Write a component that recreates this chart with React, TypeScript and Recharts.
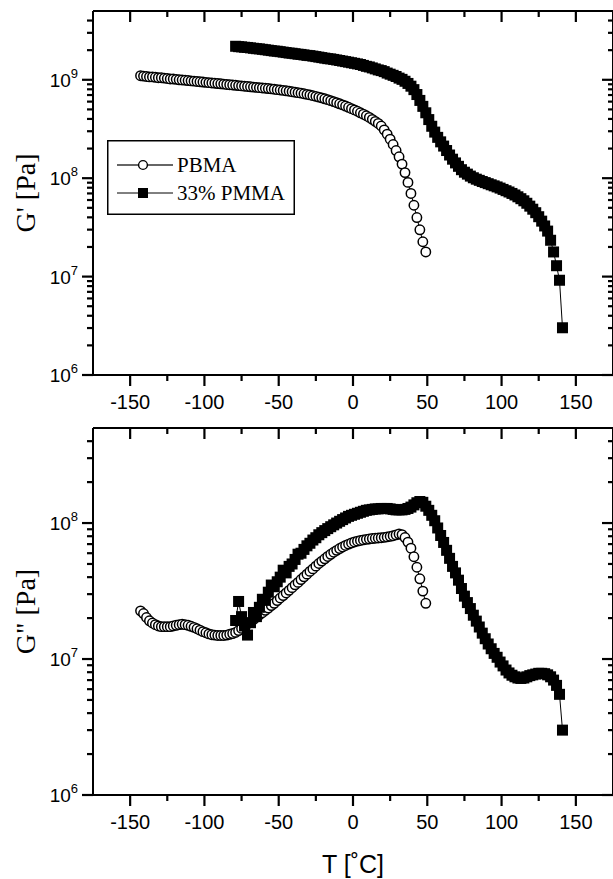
import React from 'react';
import { ScatterChart, Scatter, XAxis, YAxis, Legend } from 'recharts';

// ---------- DATA ----------
const tPBMA = [
  -143, -141, -139, -137, -135, -133, -131, -129, -127, -125,
  -123, -121, -119, -117, -115, -113, -111, -109, -107, -105,
  -103, -101, -99, -97, -95, -93, -91, -89, -87, -85,
  -83, -81, -79, -77, -75, -73, -71, -69, -67, -65,
  -63, -61, -59, -57, -55, -53, -51, -49, -47, -45,
  -43, -41, -39, -37, -35, -33, -31, -29, -27, -25,
  -23, -21, -19, -17, -15, -13, -11, -9, -7, -5,
  -3, -1, 1, 3, 5, 7, 9, 11, 13, 15,
  17, 19, 21, 23, 25, 27, 29, 31, 33, 35,
  37, 39, 41, 43, 45, 47, 49,
];

const gPrimePBMA = [
  1.10e9, 1.09e9, 1.08e9, 1.07e9, 1.07e9, 1.06e9, 1.05e9, 1.05e9, 1.04e9, 1.03e9,
  1.02e9, 1.02e9, 1.01e9, 1.00e9, 9.95e8, 9.89e8, 9.82e8, 9.75e8, 9.68e8, 9.62e8,
  9.55e8, 9.48e8, 9.42e8, 9.35e8, 9.29e8, 9.23e8, 9.16e8, 9.10e8, 9.04e8, 8.97e8,
  8.91e8, 8.85e8, 8.79e8, 8.73e8, 8.67e8, 8.61e8, 8.55e8, 8.49e8, 8.43e8, 8.38e8,
  8.32e8, 8.26e8, 8.20e8, 8.15e8, 8.09e8, 8.02e8, 7.94e8, 7.87e8, 7.80e8, 7.73e8,
  7.66e8, 7.57e8, 7.48e8, 7.40e8, 7.31e8, 7.21e8, 7.11e8, 7.02e8, 6.90e8, 6.79e8,
  6.67e8, 6.55e8, 6.41e8, 6.28e8, 6.14e8, 6.00e8, 5.85e8, 5.70e8, 5.56e8, 5.41e8,
  5.25e8, 5.09e8, 4.94e8, 4.79e8, 4.62e8, 4.47e8, 4.31e8, 4.14e8, 3.96e8, 3.78e8,
  3.60e8, 3.39e8, 3.10e8, 2.80e8, 2.49e8, 2.20e8, 1.91e8, 1.65e8, 1.39e8, 1.14e8,
  9.06e7, 7.00e7, 5.31e7, 3.98e7, 2.99e7, 2.26e7, 1.78e7,
];

const gDoublePrimePBMA = [
  2.26e7, 2.16e7, 2.02e7, 1.91e7, 1.84e7, 1.79e7, 1.75e7, 1.73e7, 1.73e7, 1.73e7,
  1.73e7, 1.75e7, 1.77e7, 1.79e7, 1.80e7, 1.79e7, 1.77e7, 1.74e7, 1.71e7, 1.67e7,
  1.63e7, 1.59e7, 1.56e7, 1.53e7, 1.51e7, 1.50e7, 1.49e7, 1.49e7, 1.49e7, 1.50e7,
  1.52e7, 1.54e7, 1.57e7, 1.62e7, 1.68e7, 1.74e7, 1.81e7, 1.87e7, 1.95e7, 2.03e7,
  2.11e7, 2.19e7, 2.28e7, 2.37e7, 2.47e7, 2.57e7, 2.69e7, 2.81e7, 2.93e7, 3.06e7,
  3.20e7, 3.35e7, 3.51e7, 3.66e7, 3.84e7, 4.02e7, 4.21e7, 4.41e7, 4.60e7, 4.82e7,
  5.04e7, 5.25e7, 5.46e7, 5.68e7, 5.89e7, 6.10e7, 6.30e7, 6.49e7, 6.67e7, 6.84e7,
  7.00e7, 7.14e7, 7.26e7, 7.36e7, 7.45e7, 7.52e7, 7.59e7, 7.64e7, 7.69e7, 7.73e7,
  7.76e7, 7.80e7, 7.85e7, 7.91e7, 7.98e7, 8.07e7, 8.18e7, 8.30e7, 8.22e7, 7.82e7,
  7.24e7, 6.53e7, 5.65e7, 4.73e7, 3.89e7, 3.16e7, 2.57e7,
];

const tPMMA = [
  -79, -77, -75, -73, -71, -69, -67, -65, -63, -61,
  -59, -57, -55, -53, -51, -49, -47, -45, -43, -41,
  -39, -37, -35, -33, -31, -29, -27, -25, -23, -21,
  -19, -17, -15, -13, -11, -9, -7, -5, -3, -1,
  1, 3, 5, 7, 9, 11, 13, 15, 17, 19,
  21, 23, 25, 27, 29, 31, 33, 35, 37, 39,
  41, 43, 45, 47, 49, 51, 53, 55, 57, 59,
  61, 63, 65, 67, 69, 71, 73, 75, 77, 79,
  81, 83, 85, 87, 89, 91, 93, 95, 97, 99,
  101, 103, 105, 107, 109, 111, 113, 115, 117, 119,
  121, 123, 125, 127, 129, 131, 133, 135, 137, 139,
  141,
];

const gPrimePMMA = [
  2.19e9, 2.17e9, 2.16e9, 2.14e9, 2.13e9, 2.11e9, 2.09e9, 2.07e9, 2.06e9, 2.04e9,
  2.02e9, 2.00e9, 1.98e9, 1.96e9, 1.95e9, 1.93e9, 1.91e9, 1.89e9, 1.87e9, 1.86e9,
  1.84e9, 1.82e9, 1.81e9, 1.79e9, 1.77e9, 1.76e9, 1.74e9, 1.72e9, 1.70e9, 1.68e9,
  1.66e9, 1.64e9, 1.63e9, 1.61e9, 1.59e9, 1.57e9, 1.55e9, 1.53e9, 1.51e9, 1.49e9,
  1.47e9, 1.45e9, 1.43e9, 1.40e9, 1.37e9, 1.35e9, 1.32e9, 1.29e9, 1.26e9, 1.24e9,
  1.21e9, 1.17e9, 1.14e9, 1.11e9, 1.08e9, 1.04e9, 1.01e9, 9.66e8, 9.18e8, 8.61e8,
  7.94e8, 7.08e8, 6.17e8, 5.37e8, 4.62e8, 3.94e8, 3.37e8, 2.94e8, 2.60e8, 2.34e8,
  2.12e8, 1.91e8, 1.72e8, 1.56e8, 1.43e8, 1.32e8, 1.22e8, 1.15e8, 1.10e8, 1.05e8,
  1.01e8, 9.77e7, 9.51e7, 9.25e7, 9.02e7, 8.79e7, 8.57e7, 8.36e7, 8.15e7, 7.93e7,
  7.69e7, 7.46e7, 7.24e7, 7.00e7, 6.75e7, 6.47e7, 6.19e7, 5.89e7, 5.56e7, 5.20e7,
  4.84e7, 4.46e7, 4.06e7, 3.66e7, 3.27e7, 2.90e7, 2.34e7, 1.78e7, 1.29e7, 9.18e6,
  3.02e6,
];

const gDoublePrimePMMA = [
  1.92e7, 2.65e7, 2.05e7, 1.75e7, 1.50e7, 1.85e7, 2.20e7, 2.05e7, 2.40e7, 2.75e7,
  2.70e7, 3.10e7, 3.50e7, 3.40e7, 3.70e7, 4.00e7, 4.50e7, 4.30e7, 4.80e7, 5.00e7,
  5.40e7, 5.90e7, 6.00e7, 6.40e7, 6.80e7, 7.10e7, 7.50e7, 7.80e7, 8.20e7, 8.50e7,
  8.80e7, 9.10e7, 9.40e7, 9.70e7, 1.00e8, 1.03e8, 1.06e8, 1.09e8, 1.12e8, 1.14e8,
  1.16e8, 1.18e8, 1.20e8, 1.22e8, 1.24e8, 1.25e8, 1.26e8, 1.27e8, 1.27e8, 1.28e8,
  1.28e8, 1.28e8, 1.27e8, 1.26e8, 1.25e8, 1.25e8, 1.25e8, 1.26e8, 1.28e8, 1.31e8,
  1.36e8, 1.41e8, 1.44e8, 1.42e8, 1.33e8, 1.24e8, 1.14e8, 1.04e8, 9.20e7, 8.10e7,
  7.20e7, 6.30e7, 5.50e7, 4.80e7, 4.30e7, 3.80e7, 3.30e7, 2.90e7, 2.60e7, 2.35e7,
  2.10e7, 1.90e7, 1.72e7, 1.55e7, 1.41e7, 1.29e7, 1.19e7, 1.10e7, 1.03e7, 9.50e6,
  8.90e6, 8.30e6, 7.90e6, 7.60e6, 7.40e6, 7.25e6, 7.20e6, 7.25e6, 7.40e6, 7.55e6,
  7.65e6, 7.75e6, 7.85e6, 7.85e6, 7.80e6, 7.65e6, 7.40e6, 7.00e6, 6.40e6, 5.50e6,
  3.00e6,
];

const seriesNames = ['PBMA', '33% PMMA'];

const xDomain = [-175, 175];
const xMajorTicks = [-150, -100, -50, 0, 50, 100, 150];
const xMinorTicks = [-125, -75, -25, 25, 75, 125];

const topYDomain = [1e6, 5e9];
const topYDecades = [1e6, 1e7, 1e8, 1e9];
const topYMinor = [
  2e6, 3e6, 4e6, 5e6, 6e6, 7e6, 8e6, 9e6,
  2e7, 3e7, 4e7, 5e7, 6e7, 7e7, 8e7, 9e7,
  2e8, 3e8, 4e8, 5e8, 6e8, 7e8, 8e8, 9e8,
  2e9, 3e9, 4e9,
];

const bottomYDomain = [1e6, 5e8];
const bottomYDecades = [1e6, 1e7, 1e8];
const bottomYMinor = [
  2e6, 3e6, 4e6, 5e6, 6e6, 7e6, 8e6, 9e6,
  2e7, 3e7, 4e7, 5e7, 6e7, 7e7, 8e7, 9e7,
  2e8, 3e8, 4e8,
];

// ---------- helpers ----------
const FONT_SANS = '"Liberation Sans", Arial, Helvetica, sans-serif';
const FONT_SERIF = '"Liberation Serif", "Times New Roman", Times, serif';
const axisLineStyle = { stroke: '#000', strokeWidth: 2 };

const toPoints = (ts: number[], vs: number[]) => ts.map((t, i) => ({ t, g: vs[i] }));

const pbmaTop = toPoints(tPBMA, gPrimePBMA);
const pmmaTop = toPoints(tPMMA, gPrimePMMA);
const pbmaBottom = toPoints(tPBMA, gDoublePrimePBMA);
const pmmaBottom = toPoints(tPMMA, gDoublePrimePMMA);

// tick labels (tickSize 1, tickMargin 0)
const BottomXLabel = (props: any) => {
  const { x, y, payload } = props;
  return (
    <text x={x} y={y + 33} textAnchor="middle" fontSize={20} fontFamily={FONT_SANS} fill="#000">
      {String(payload.value)}
    </text>
  );
};

const LeftYLabel = (props: any) => {
  const { x, y, payload } = props;
  const exp = Math.round(Math.log10(payload.value));
  return (
    <text x={x - 14} y={y + 7} textAnchor="end" fontSize={19} fontFamily={FONT_SANS} fill="#000">
      <tspan>10</tspan>
      <tspan dy={-9} fontSize={13}>{String(exp)}</tspan>
    </text>
  );
};

// tick marks, positioned by the chart's own scales
const tickMark = (dx: number, dy: number) => (p: any) => (
  <line x1={p.cx} y1={p.cy} x2={p.cx + dx} y2={p.cy + dy} stroke="#000" strokeWidth={2.2} />
);
const TickDownMajor = tickMark(0, 11);
const TickDownMinor = tickMark(0, 6);
const TickLeftMajor = tickMark(-11, 0);
const TickLeftMinor = tickMark(-6, 0);
const TickLeftMinorShort = tickMark(-5, 0);

const CircleMarker = (p: any) => (
  <circle cx={p.cx} cy={p.cy} r={4.7} fill="#fff" stroke="#000" strokeWidth={1.5} />
);
const SquareMarker = (p: any) => (
  <rect x={p.cx - 5.5} y={p.cy - 5.5} width={11} height={11} fill="#000" />
);

const yTitle = (text: string) => (props: any) => {
  const vb = props.viewBox || {};
  const cx = 35;
  const cy = (vb.y || 0) + (vb.height || 0) / 2;
  return (
    <text x={cx} y={cy} transform={`rotate(-90, ${cx}, ${cy})`} textAnchor="middle" fontSize={28}
      fontFamily={FONT_SERIF} fill="#000">
      {text}
    </text>
  );
};

const xTitle = (text: string) => (props: any) => {
  const vb = props.viewBox || {};
  return (
    <text x={(vb.x || 0) + (vb.width || 0) / 2} y={(vb.y || 0) + 78} textAnchor="middle" fontSize={25}
      fontFamily={FONT_SANS} fill="#000">
      {text}
    </text>
  );
};

const LegendBox = () => (
  <svg width={188} height={75} style={{ display: 'block' }}>
    <rect x={0.75} y={0.75} width={186.5} height={73.5} fill="#fff" stroke="#000" strokeWidth={1.5} />
    <line x1={10} y1={25} x2={31} y2={25} stroke="#000" strokeWidth={1.2} />
    <circle cx={36} cy={25} r={4.4} fill="#fff" stroke="#000" strokeWidth={1.4} />
    <line x1={41} y1={25} x2={66} y2={25} stroke="#000" strokeWidth={1.2} />
    <text x={70} y={32} fontSize={21} fontFamily={FONT_SERIF} fill="#000">{seriesNames[0]}</text>
    <line x1={10} y1={53} x2={31} y2={53} stroke="#000" strokeWidth={1} />
    <rect x={31} y={48} width={10} height={10} fill="#000" />
    <line x1={41} y1={53} x2={66} y2={53} stroke="#000" strokeWidth={1} />
    <text x={70} y={60} fontSize={21} fontFamily={FONT_SERIF} fill="#000">{seriesNames[1]}</text>
  </svg>
);

function renderPanel(
  height: number,
  topAxisHeight: number,
  xAxisHeight: number,
  yDomain: number[],
  yDecades: number[],
  yMinor: number[],
  pbma: any[],
  pmma: any[],
  yLabel: string,
  xLabel: string | null,
  withLegend: boolean,
) {
  const yMin = yDomain[0];
  const yMax = yDomain[1];
  const bottomMajor = xMajorTicks.map((t) => ({ t, g: yMin }));
  const bottomMinor = xMinorTicks.map((t) => ({ t, g: yMin }));
  const topMajor = xMajorTicks.map((t) => ({ t, g: yMax }));
  const topMinor = xMinorTicks.map((t) => ({ t, g: yMax }));
  const leftMajor = yDecades.map((g) => ({ t: xDomain[0], g }));
  const leftMinor = yMinor.map((g) => ({ t: xDomain[0], g }));
  const rightMajor = yDecades.map((g) => ({ t: xDomain[1], g }));
  const rightMinor = yMinor.map((g) => ({ t: xDomain[1], g }));
  const allY = [...yDecades, ...yMinor].sort((a, b) => a - b);
  const allX = [...xMajorTicks, ...xMinorTicks].sort((a, b) => a - b);

  return (
    <ScatterChart width={620} height={height} margin={{ top: 0, right: 0, bottom: 0, left: 0 }}>
      <XAxis xAxisId="b" dataKey="t" type="number" domain={xDomain} ticks={xMajorTicks} interval={0}
        height={xAxisHeight} axisLine={axisLineStyle} tickLine={false} tickSize={1} tickMargin={0}
        tick={<BottomXLabel />} label={xLabel ? xTitle(xLabel) : undefined} />
      <XAxis xAxisId="t" orientation="top" dataKey="t" type="number" domain={xDomain} ticks={allX}
        interval={0} height={topAxisHeight} axisLine={axisLineStyle} tickLine={false} tick={false} />
      <YAxis yAxisId="l" dataKey="g" type="number" scale="log" domain={yDomain} ticks={yDecades}
        interval={0} width={93} axisLine={axisLineStyle} tickLine={false} tickSize={1}
        tickMargin={0} tick={<LeftYLabel />} label={yTitle(yLabel)} />
      <YAxis yAxisId="r" orientation="right" dataKey="g" type="number" scale="log" domain={yDomain}
        ticks={allY} interval={0} width={7} axisLine={axisLineStyle} tickLine={false} tick={false} />
      {withLegend && (
        <Legend
          layout="vertical"
          align="center"
          verticalAlign="middle"
          wrapperStyle={{ left: 107, top: 140, width: 188, height: 75 }}
          content={() => <LegendBox />}
        />
      )}
      <Scatter name={seriesNames[0]} data={pbma} xAxisId="b" yAxisId="l" shape={CircleMarker}
        line={{ stroke: '#000', strokeWidth: 1 }} isAnimationActive={false} />
      <Scatter name={seriesNames[1]} data={pmma} xAxisId="b" yAxisId="l" shape={SquareMarker}
        line={{ stroke: '#000', strokeWidth: 1 }} isAnimationActive={false} />

      {/* frame tick marks */}
      <Scatter data={bottomMajor} xAxisId="b" yAxisId="l" shape={TickDownMajor} legendType="none" isAnimationActive={false} />
      <Scatter data={bottomMinor} xAxisId="b" yAxisId="l" shape={TickDownMinor} legendType="none" isAnimationActive={false} />
      <Scatter data={leftMajor} xAxisId="b" yAxisId="l" shape={TickLeftMajor} legendType="none" isAnimationActive={false} />
      <Scatter data={leftMinor} xAxisId="b" yAxisId="l" shape={TickLeftMinor} legendType="none" isAnimationActive={false} />
      <Scatter data={topMajor} xAxisId="t" yAxisId="r" shape={TickDownMajor} legendType="none" isAnimationActive={false} />
      <Scatter data={topMinor} xAxisId="t" yAxisId="r" shape={TickDownMinor} legendType="none" isAnimationActive={false} />
      <Scatter data={rightMajor} xAxisId="t" yAxisId="r" shape={TickLeftMajor} legendType="none" isAnimationActive={false} />
      <Scatter data={rightMinor} xAxisId="t" yAxisId="r" shape={TickLeftMinorShort} legendType="none" isAnimationActive={false} />
    </ScatterChart>
  );
}

export default function App() {
  return (
    <div style={{ position: 'absolute', left: 0, top: 0, width: 613, height: 879, overflow: 'hidden', background: '#fff' }}>
      <div style={{ position: 'absolute', left: 0, top: 0, width: 620, height: 420 }}>
        {renderPanel(420, 11, 45, topYDomain, topYDecades, topYMinor, pbmaTop, pmmaTop, "G' [Pa]", null, true)}
      </div>
      <div style={{ position: 'absolute', left: 0, top: 420, width: 620, height: 459 }}>
        {renderPanel(459, 8, 84, bottomYDomain, bottomYDecades, bottomYMinor, pbmaBottom, pmmaBottom, 'G" [Pa]', 'T [˚C]', false)}
      </div>
    </div>
  );
}
